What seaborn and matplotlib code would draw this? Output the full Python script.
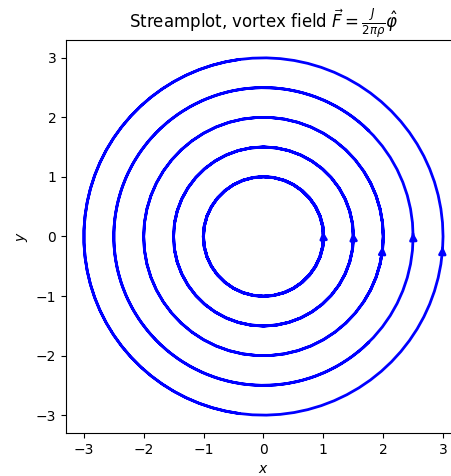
import numpy as np
import matplotlib
matplotlib.use("Agg")
import matplotlib.pyplot as plt
import seaborn as sns

sns.reset_orig()

# Sampling grid for the vortex field F = J/(2*pi*rho) * phi_hat
grid_half_width = 3.5
grid_points = 50
J = 1.0

# Seed points for the streamlines, on the positive x axis
start_x = [1.0, 1.5, 2.0, 2.5, 3.0]
start_y = [0.0, 0.0, 0.0, 0.0, 0.0]

xs = np.linspace(-grid_half_width, grid_half_width, grid_points)
X, Y = np.meshgrid(xs, xs)
rho2 = X**2 + Y**2
with np.errstate(divide="ignore", invalid="ignore"):
    U = np.nan_to_num(-J / (2 * np.pi) * Y / rho2)
    V = np.nan_to_num(J / (2 * np.pi) * X / rho2)

fig = plt.figure(figsize=(4.51, 4.76), dpi=100)
ax = fig.add_axes([66 / 451, 43 / 476, 395 / 451, 393 / 476])

ax.streamplot(X, Y, U, V, start_points=np.column_stack([start_x, start_y]),
              color="b", linewidth=2, broken_streamlines=False)

ax.set_xlabel("$x$")
ax.set_ylabel("$y$")
ax.set_title(r"Streamplot, vortex field $\vec{F} = \frac{J}{2\pi\rho}\hat{\varphi}$")

fig.savefig("out.png", dpi=100)
